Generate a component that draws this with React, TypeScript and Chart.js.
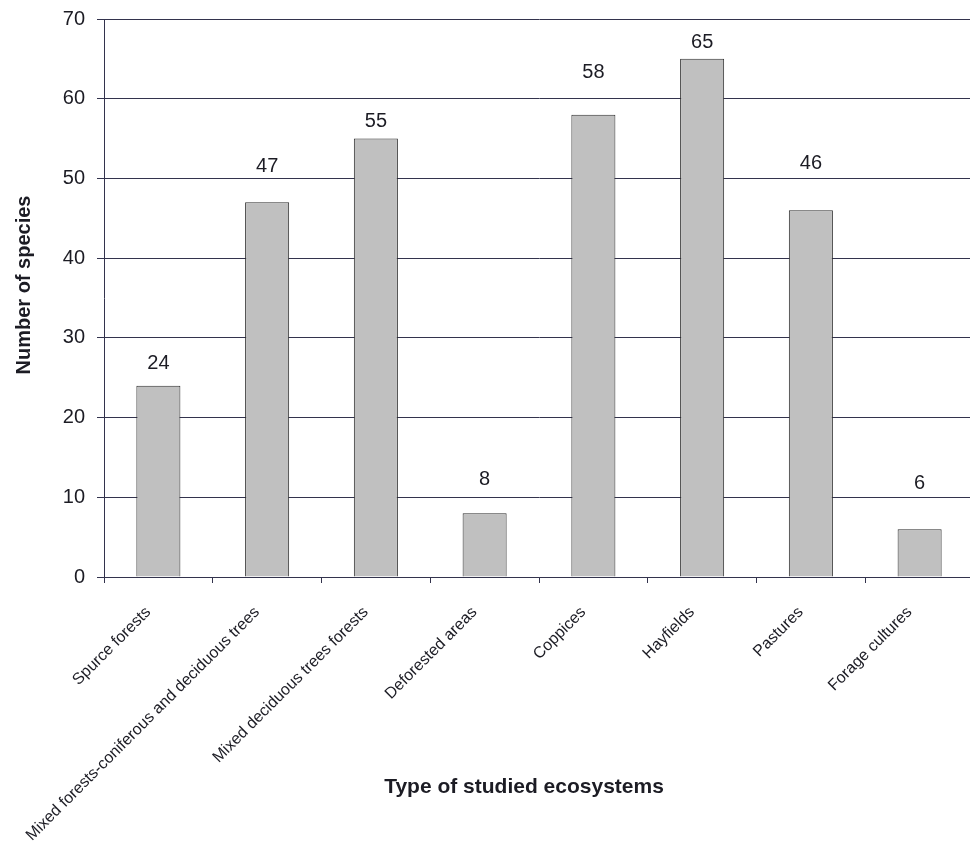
import React, { useEffect, useRef } from "react";
import { Chart, registerables } from "chart.js";

Chart.register(...registerables);

const categories = [
  "Spurce forests",
  "Mixed forests-coniferous and deciduous trees",
  "Mixed deciduous trees forests",
  "Deforested areas",
  "Coppices",
  "Hayfields",
  "Pastures",
  "Forage cultures",
];
const speciesCounts = [24, 47, 55, 8, 58, 65, 46, 6];
const yMin = 0;
const yMax = 70;
const yStep = 10;
const xTitle = "Type of studied ecosystems";
const yTitle = "Number of species";

const FONT = "'Liberation Sans', Arial, Helvetica, sans-serif";
const LINE = "#33334d";
const TEXT = "#1c1c24";
// vertical gap (px) between bar top and its value label centre, as in the original figure
const labelGaps = [22, 36, 17, 34, 42, 16, 47, 46];

export default function App() {
  const ref = useRef<HTMLCanvasElement | null>(null);

  useEffect(() => {
    const canvas = ref.current;
    if (!canvas) return;

    const labelsPlugin = {
      id: "valueLabels",
      afterDatasetsDraw(chart: any) {
        const ctx = chart.ctx;
        const meta = chart.getDatasetMeta(0);
        ctx.save();
        ctx.font = `20px ${FONT}`;
        ctx.fillStyle = TEXT;
        ctx.textAlign = "center";
        ctx.textBaseline = "middle";
        meta.data.forEach((bar: any, i: number) => {
          const v = chart.data.datasets[0].data[i];
          ctx.fillText(String(v), bar.x, bar.y - labelGaps[i]);
        });
        ctx.restore();
      },
      afterDraw(chart: any) {
        const ctx = chart.ctx;
        ctx.save();
        ctx.fillStyle = TEXT;
        ctx.textAlign = "center";
        ctx.textBaseline = "middle";
        ctx.font = `bold 21px ${FONT}`;
        ctx.fillText(xTitle, 524, 787);
        ctx.font = `bold 20px ${FONT}`;
        ctx.translate(24, 285);
        ctx.rotate(-Math.PI / 2);
        ctx.fillText(yTitle, 0, 0);
        ctx.restore();
      },
    };

    const chart = new Chart(canvas, {
      type: "bar",
      data: {
        labels: categories,
        datasets: [
          {
            data: speciesCounts,
            backgroundColor: "#c0c0c0",
            borderColor: "#2e2e2e",
            borderWidth: 1,
            categoryPercentage: 1,
            barPercentage: 0.405,
          },
        ],
      },
      options: {
        responsive: false,
        animation: false,
        devicePixelRatio: 1,
        layout: { padding: { top: 19, right: 6, left: 0, bottom: 0 } },
        plugins: {
          legend: { display: false },
          tooltip: { enabled: false },
        },
        scales: {
          x: {
            offset: true,
            grid: {
              offset: true,
              drawOnChartArea: false,
              drawTicks: true,
              tickLength: 6,
              color: LINE,
            },
            border: { color: LINE, width: 1 },
            ticks: {
              autoSkip: false,
              minRotation: 45,
              maxRotation: 45,
              padding: 20,
              labelOffset: -10,
              color: TEXT,
              font: { family: FONT, size: 16 },
            },
            afterFit(scale: any) {
              scale.height = 266;
              scale.paddingLeft = 0;
              scale.paddingRight = 0;
            },
          },
          y: {
            min: yMin,
            max: yMax,
            ticks: {
              stepSize: yStep,
              padding: 12,
              color: TEXT,
              font: { family: FONT, size: 20 },
            },
            grid: { color: LINE, tickLength: 7, lineWidth: 1 },
            border: { color: LINE, width: 1 },
            afterFit(scale: any) {
              scale.width = 104;
              scale.paddingTop = 0;
              scale.paddingBottom = 0;
            },
          },
        },
      },
      plugins: [labelsPlugin],
    });

    return () => chart.destroy();
  }, []);

  return (
    <div
      style={{
        position: "fixed",
        left: 0,
        top: 0,
        width: 970,
        height: 843,
        overflow: "hidden",
        background: "#ffffff",
      }}
    >
      <canvas ref={ref} width={980} height={843} style={{ display: "block", width: 980, height: 843 }} />
    </div>
  );
}
